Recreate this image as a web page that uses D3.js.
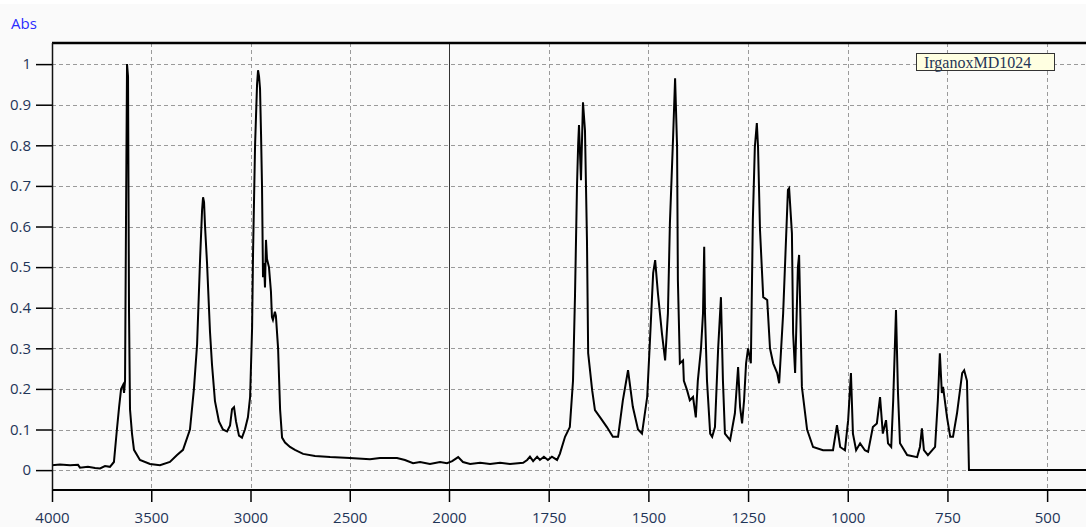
<!DOCTYPE html>
<html>
<head>
<meta charset="utf-8">
<script src="https://cdn.jsdelivr.net/npm/d3@7"></script>
<style>
  html, body { margin: 0; padding: 0; background: #fafafa; }
  svg { display: block; }
</style>
</head>
<body>
<svg id="chart" width="1086" height="527"></svg>
<script>
// ---- data ----
const seriesName = "IrganoxMD1024";
const yLabel = "Abs";
const xTicks = [4000, 3500, 3000, 2500, 2000, 1750, 1500, 1250, 1000, 750, 500];
const yTicks = [0, 0.1, 0.2, 0.3, 0.4, 0.5, 0.6, 0.7, 0.8, 0.9, 1];
const xBreak = [4000, 2000, 400];

const wavenumber = [
  4000, 3960, 3909, 3869, 3859, 3819, 3783, 3758, 3733, 3708, 3688, 3673, 3662, 3652, 3642, 3637, 3632, 3627, 3622, 3617,
  3612, 3607, 3597, 3587, 3557, 3506, 3456, 3406, 3370, 3340, 3305, 3285, 3269, 3254, 3244, 3239, 3234, 3229, 3219, 3204,
  3194, 3179, 3159, 3139, 3118, 3103, 3093, 3083, 3073, 3058, 3043, 3028, 3013, 3002, 2992, 2987, 2977, 2967, 2962, 2957,
  2952, 2947, 2942, 2937, 2932, 2927, 2922, 2917, 2907, 2897, 2892, 2887, 2877, 2872, 2861, 2851, 2841, 2826, 2801, 2776,
  2735, 2675, 2599, 2499, 2398, 2348, 2262, 2222, 2181, 2146, 2096, 2045, 2010, 1992, 1977, 1965, 1947, 1922, 1897, 1872,
  1847, 1814, 1804, 1797, 1789, 1779, 1772, 1762, 1752, 1742, 1729, 1722, 1709, 1697, 1689, 1684, 1679, 1676, 1674, 1669,
  1664, 1659, 1654, 1651, 1641, 1634, 1621, 1604, 1589, 1576, 1564, 1551, 1539, 1526, 1516, 1503, 1496, 1488, 1483, 1476,
  1466, 1458, 1451, 1446, 1438, 1433, 1428, 1426, 1421, 1413, 1411, 1403, 1396, 1388, 1381, 1376, 1368, 1363, 1360, 1358,
  1353, 1345, 1340, 1333, 1325, 1318, 1313, 1308, 1295, 1283, 1275, 1270, 1265, 1260, 1255, 1250, 1243, 1238, 1233, 1228,
  1225, 1220, 1212, 1202, 1195, 1187, 1177, 1172, 1162, 1150, 1147, 1140, 1137, 1132, 1125, 1122, 1115, 1102, 1087, 1062,
  1037, 1027, 1019, 1007, 999, 992, 987, 979, 969, 957, 949, 937, 927, 919, 912, 904, 899, 891, 886, 879,
  874, 869, 851, 826, 819, 814, 809, 799, 781, 774, 769, 764, 761, 751, 743, 736, 726, 713, 708, 701,
  698, 696, 694, 400
];
const absorbance = [
  0.012, 0.014, 0.012, 0.013, 0.006, 0.008, 0.005, 0.004, 0.010, 0.008, 0.020, 0.100, 0.155, 0.200, 0.210, 0.190, 0.220, 0.630, 1.000, 0.970,
  0.390, 0.150, 0.090, 0.050, 0.025, 0.015, 0.012, 0.020, 0.037, 0.050, 0.100, 0.200, 0.310, 0.520, 0.640, 0.672, 0.660, 0.600, 0.510, 0.340,
  0.260, 0.170, 0.120, 0.100, 0.095, 0.110, 0.150, 0.155, 0.120, 0.085, 0.080, 0.100, 0.130, 0.180, 0.350, 0.540, 0.800, 0.950, 0.985, 0.970,
  0.940, 0.830, 0.700, 0.475, 0.510, 0.450, 0.567, 0.520, 0.500, 0.440, 0.377, 0.370, 0.390, 0.380, 0.300, 0.150, 0.080, 0.068, 0.057, 0.050,
  0.040, 0.035, 0.032, 0.030, 0.027, 0.030, 0.030, 0.025, 0.017, 0.020, 0.015, 0.020, 0.017, 0.022, 0.032, 0.020, 0.015, 0.018, 0.015, 0.018,
  0.015, 0.018, 0.025, 0.033, 0.022, 0.033, 0.025, 0.033, 0.025, 0.033, 0.025, 0.040, 0.082, 0.106, 0.220, 0.430, 0.700, 0.805, 0.850, 0.714,
  0.906, 0.837, 0.567, 0.288, 0.197, 0.148, 0.130, 0.106, 0.082, 0.082, 0.172, 0.246, 0.156, 0.100, 0.090, 0.180, 0.320, 0.485, 0.517, 0.435,
  0.337, 0.270, 0.386, 0.608, 0.820, 0.965, 0.796, 0.468, 0.263, 0.270, 0.220, 0.197, 0.172, 0.180, 0.130, 0.220, 0.300, 0.386, 0.550, 0.386,
  0.220, 0.090, 0.082, 0.106, 0.300, 0.426, 0.220, 0.090, 0.074, 0.140, 0.254, 0.155, 0.115, 0.172, 0.263, 0.300, 0.263, 0.616, 0.796, 0.855,
  0.796, 0.590, 0.426, 0.419, 0.300, 0.263, 0.239, 0.214, 0.386, 0.690, 0.694, 0.583, 0.337, 0.239, 0.500, 0.530, 0.205, 0.100, 0.057, 0.049,
  0.049, 0.111, 0.057, 0.049, 0.123, 0.239, 0.090, 0.049, 0.066, 0.049, 0.045, 0.106, 0.115, 0.180, 0.090, 0.123, 0.066, 0.057, 0.172, 0.394,
  0.190, 0.066, 0.037, 0.032, 0.057, 0.103, 0.049, 0.037, 0.057, 0.172, 0.288, 0.190, 0.205, 0.130, 0.082, 0.082, 0.140, 0.239, 0.246, 0.220,
  0.090, 0.000, 0.000, 0.000
];

// ---- layout ----
const svg = d3.select("#chart");
const W = 1086, H = 527;
const padL = 52, padR = 1087, padT = 43, padB = 490;

const x = d3.scaleLinear().domain(xBreak).range([padL, 449, padR]);
const y = d3.scaleLinear().domain([-0.049, 1.052]).range([padB, padT]);

// page background
svg.append("rect").attr("width", W).attr("height", H).attr("fill", "#fafafa");
svg.append("rect").attr("width", W).attr("height", 4).attr("fill", "#ffffff");

svg.append("defs").append("clipPath").attr("id", "clip")
  .append("rect").attr("x", padL).attr("y", padT).attr("width", W - padL).attr("height", padB - padT);

// gridlines
const grid = svg.append("g");
grid.selectAll("line.h").data(yTicks).join("line")
  .attr("x1", padL).attr("x2", W)
  .attr("y1", d => Math.round(y(d)) + 0.5).attr("y2", d => Math.round(y(d)) + 0.5)
  .attr("stroke", "#9a9a9a").attr("stroke-width", 1).attr("stroke-dasharray", "4,3");
grid.selectAll("line.v").data(xTicks.filter(d => d !== 2000 && d !== 4000)).join("line")
  .attr("x1", d => Math.round(x(d)) + 0.5).attr("x2", d => Math.round(x(d)) + 0.5)
  .attr("y1", padT).attr("y2", padB)
  .attr("stroke", "#9a9a9a").attr("stroke-width", 1).attr("stroke-dasharray", "4,3");

// break line at 2000
svg.append("line")
  .attr("x1", Math.round(x(2000)) + 0.5).attr("x2", Math.round(x(2000)) + 0.5)
  .attr("y1", padT).attr("y2", padB)
  .attr("stroke", "#333").attr("stroke-width", 1);

// spectrum
const pts = wavenumber.map((w, i) => [w, absorbance[i]]);
svg.append("path")
  .datum(pts)
  .attr("clip-path", "url(#clip)")
  .attr("fill", "none")
  .attr("stroke", "#000")
  .attr("stroke-width", 2)
  .attr("stroke-linejoin", "miter")
  .attr("d", d3.line().x(d => x(d[0])).y(d => y(d[1])));

// frame
svg.append("line").attr("x1", padL).attr("x2", W).attr("y1", padT).attr("y2", padT)
  .attr("stroke", "#000").attr("stroke-width", 2.5);
svg.append("line").attr("x1", padL).attr("x2", W).attr("y1", padB).attr("y2", padB)
  .attr("stroke", "#000").attr("stroke-width", 2);
svg.append("line").attr("x1", padL + 0.5).attr("x2", padL + 0.5).attr("y1", padT).attr("y2", padB)
  .attr("stroke", "#111").attr("stroke-width", 1.5);

// axes
const tickColor = "#1f3558";
const sans = "'Open Sans', 'Noto Sans', sans-serif";
const serif = "'Liberation Serif', 'Times New Roman', serif";

const yAxis = svg.append("g").attr("transform", `translate(${padL},0)`)
  .call(d3.axisLeft(y).tickValues(yTicks).tickSize(16).tickPadding(5).tickFormat(d3.format("~g")));
yAxis.select(".domain").remove();
yAxis.selectAll(".tick line").attr("stroke", "#000").attr("stroke-width", 1.5);
yAxis.selectAll(".tick text").attr("fill", tickColor).style("font-family", sans).style("font-size", "15px");

const xAxis = svg.append("g").attr("transform", `translate(0,${padB})`)
  .call(d3.axisBottom(x).tickValues(xTicks).tickSize(12).tickPadding(10).tickFormat(d3.format("d")));
xAxis.select(".domain").remove();
xAxis.selectAll(".tick line").attr("stroke", "#000").attr("stroke-width", 1.5);
xAxis.selectAll(".tick text").attr("fill", tickColor).style("font-family", sans).style("font-size", "15px");

// y label
svg.append("text").attr("x", 11).attr("y", 29).text(yLabel)
  .attr("fill", "#2b2bff").style("font-family", sans).style("font-size", "15px");

// legend
const lg = svg.append("g");
lg.append("rect").attr("x", 916.5).attr("y", 53.5).attr("width", 138).attr("height", 17)
  .attr("fill", "#ffffe1").attr("stroke", "#333").attr("stroke-width", 1);
lg.append("text").attr("x", 924).attr("y", 68).text(seriesName)
  .attr("fill", tickColor).style("font-family", serif).style("font-size", "16px");
</script>
</body>
</html>
